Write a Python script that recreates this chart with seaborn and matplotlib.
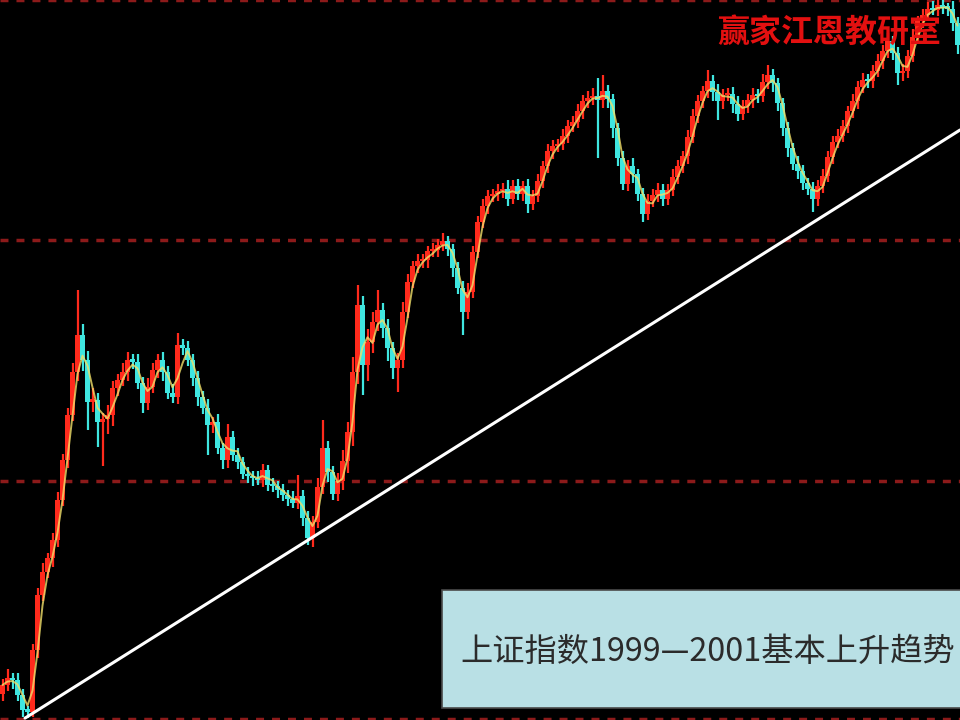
import matplotlib
matplotlib.use("Agg")
import matplotlib.pyplot as plt
from matplotlib.patches import Rectangle
import numpy as np
import pandas as pd
import seaborn as sns

# Daily closes of the Shanghai Composite, 1999-2001 (index points)
close = [
    1104, 1115, 1112, 1088, 1064, 1061, 1160, 1248, 1285, 1307, 1336, 1400,
    1464, 1536, 1605, 1664, 1624, 1557, 1560, 1525, 1530, 1536, 1579, 1592,
    1605, 1624, 1621, 1587, 1555, 1581, 1608, 1624, 1605, 1571, 1565, 1648,
    1643, 1624, 1595, 1565, 1547, 1520, 1525, 1483, 1464, 1501, 1472, 1461,
    1442, 1438, 1435, 1432, 1448, 1424, 1422, 1416, 1408, 1402, 1395, 1406,
    1371, 1339, 1365, 1421, 1483, 1445, 1410, 1430, 1462, 1509, 1605, 1712,
    1616, 1653, 1685, 1704, 1675, 1643, 1611, 1624, 1701, 1749, 1774, 1782,
    1784, 1798, 1800, 1808, 1814, 1802, 1771, 1739, 1701, 1733, 1797, 1845,
    1870, 1886, 1890, 1894, 1898, 1882, 1902, 1890, 1902, 1874, 1886, 1910,
    1934, 1958, 1966, 1970, 1982, 1998, 2005, 2022, 2038, 2043, 2046, 2040,
    2054, 2042, 1995, 1947, 1906, 1934, 1922, 1890, 1858, 1878, 1888, 1896,
    1882, 1896, 1917, 1934, 1950, 1981, 2014, 2038, 2054, 2070, 2053, 2038,
    2048, 2050, 2034, 2018, 2030, 2040, 2048, 2046, 2069, 2080, 2067, 2035,
    1995, 1963, 1938, 1926, 1907, 1898, 1882, 1902, 1918, 1949, 1973, 1982,
    1998, 2022, 2038, 2061, 2072, 2070, 2086, 2102, 2118, 2134, 2115, 2083,
    2086, 2110, 2141, 2166, 2176, 2186, 2184, 2192, 2187, 2186, 2163, 2128,
]
first_open = 1090

# Distance from the body top to the high, and from the body bottom to the low
upper_wick = [
    10, 14, 8, 12, 9, 6, 10, 12, 14, 9, 11, 13,
    10, 12, 15, 72, 18, 14, 20, 12, 10, 16, 12, 10,
    14, 13, 9, 12, 10, 14, 11, 9, 13, 10, 14, 19,
    10, 12, 9, 11, 10, 14, 8, 12, 9, 20, 10, 12,
    8, 11, 9, 12, 10, 8, 11, 9, 10, 8, 12, 34,
    10, 12, 9, 14, 45, 12, 10, 14, 18, 16, 24, 32,
    14, 20, 16, 32, 12, 14, 10, 12, 16, 12, 9, 11,
    10, 8, 12, 10, 14, 9, 8, 10, 12, 14, 10, 9,
    12, 10, 8, 11, 9, 14, 10, 12, 9, 11, 10, 12,
    9, 11, 10, 8, 12, 10, 9, 11, 10, 12, 14, 29,
    26, 10, 8, 9, 12, 10, 14, 8, 10, 12, 9, 11,
    10, 9, 12, 10, 8, 11, 12, 10, 9, 18, 10, 12,
    10, 9, 11, 12, 10, 9, 11, 10, 12, 16, 10, 9,
    8, 10, 9, 12, 10, 8, 11, 10, 12, 9, 10, 11,
    10, 9, 12, 10, 11, 9, 10, 12, 10, 14, 9, 10,
    11, 10, 12, 9, 10, 11, 12, 8, 10, 9, 12, 10,
]
lower_wick = [
    12, 10, 14, 9, 11, 10, 8, 12, 10, 9, 14, 11,
    10, 12, 9, 14, 18, 45, 16, 40, 70, 24, 18, 12,
    10, 14, 12, 9, 16, 11, 10, 12, 14, 10, 9, 12,
    11, 10, 12, 14, 9, 48, 12, 10, 14, 12, 10, 11,
    9, 10, 12, 8, 11, 10, 9, 12, 10, 11, 8, 10,
    12, 11, 14, 10, 12, 16, 10, 12, 14, 18, 22, 20,
    48, 26, 18, 14, 16, 20, 18, 38, 12, 10, 9, 11,
    10, 12, 9, 11, 10, 12, 14, 10, 37, 12, 10, 9,
    10, 12, 9, 11, 10, 12, 9, 10, 12, 14, 10, 9,
    11, 10, 12, 9, 10, 11, 9, 10, 12, 10, 11, 93,
    12, 14, 16, 12, 10, 12, 14, 12, 13, 10, 9, 11,
    12, 10, 9, 11, 10, 12, 9, 10, 11, 10, 14, 30,
    12, 10, 14, 12, 10, 11, 12, 10, 9, 11, 14, 12,
    12, 14, 10, 12, 11, 10, 21, 12, 10, 9, 11, 10,
    9, 11, 10, 12, 9, 11, 10, 9, 12, 10, 11, 19,
    12, 10, 9, 11, 10, 9, 8, 10, 9, 11, 12, 14,
]

grid_levels = [1050, 1430, 1816, 2200]
trend_day = [4.5, 191.5]
trend_level = [1051, 1992]

title_text = "赢家江恩教研室"
caption_text = "上证指数1999—2001基本上升趋势"

sns.set_theme(style="dark")
plt.rcParams["font.family"] = ["Noto Sans CJK SC", "DejaVu Sans"]

df = pd.DataFrame({"close": close})
df["day"] = np.arange(len(df))
df["open"] = [first_open] + close[:-1]
body_top = df[["open", "close"]].max(axis=1)
body_bot = df[["open", "close"]].min(axis=1)
df["high"] = body_top + np.array(upper_wick)
df["low"] = body_bot - np.array(lower_wick)
df["rising"] = df["close"] >= df["open"]
df["ma"] = df["close"].rolling(3, min_periods=1).mean()

UP = "#ff2a1c"
DOWN = "#3fe6e0"
colors = np.where(df["rising"], UP, DOWN)

fig = plt.figure(figsize=(9.6, 7.2), dpi=100, facecolor="black")
ax = fig.add_axes([0, 0, 1, 1])
ax.set_facecolor("black")

for lvl in grid_levels:
    ax.axhline(lvl, color="#8c1a1a", lw=2.5, ls=(0, (2.3, 2.3)), zorder=1)

# candles
ax.vlines(df["day"], df["low"], df["high"], colors=colors, lw=1.6, zorder=2)
heights = np.maximum(body_top - body_bot, 4)
ax.bar(df["day"], heights, bottom=body_bot, width=0.9, color=colors,
       linewidth=0, zorder=3)

# short moving average drawn over the candles
sns.lineplot(data=df, x="day", y="ma", ax=ax, color="#f2e06a", lw=1.4,
             alpha=0.8, zorder=4)

# rising support line
sns.lineplot(x=trend_day, y=trend_level, ax=ax, color="white", lw=2.2,
             zorder=5)

ax.set_xlim(-0.5, 191.5)
ax.set_ylim(1048, 2200)
ax.set_axis_off()

fig.text(829 / 960, 1 - 33 / 720, title_text, color="#e31010", fontsize=23,
         ha="center", va="center", weight="bold", zorder=7)

box = Rectangle((442 / 960, 12 / 720), 0.6, 118 / 720,
                transform=fig.transFigure, facecolor="#b9e0e5",
                edgecolor="#4a4a4a", lw=1.2, zorder=8)
fig.patches.append(box)
fig.text(460 / 960, 1 - 652 / 720, caption_text, color="#2b2b2b",
         fontsize=23.2, ha="left", va="center", zorder=9)

fig.savefig("out.png", dpi=100, facecolor="black")
